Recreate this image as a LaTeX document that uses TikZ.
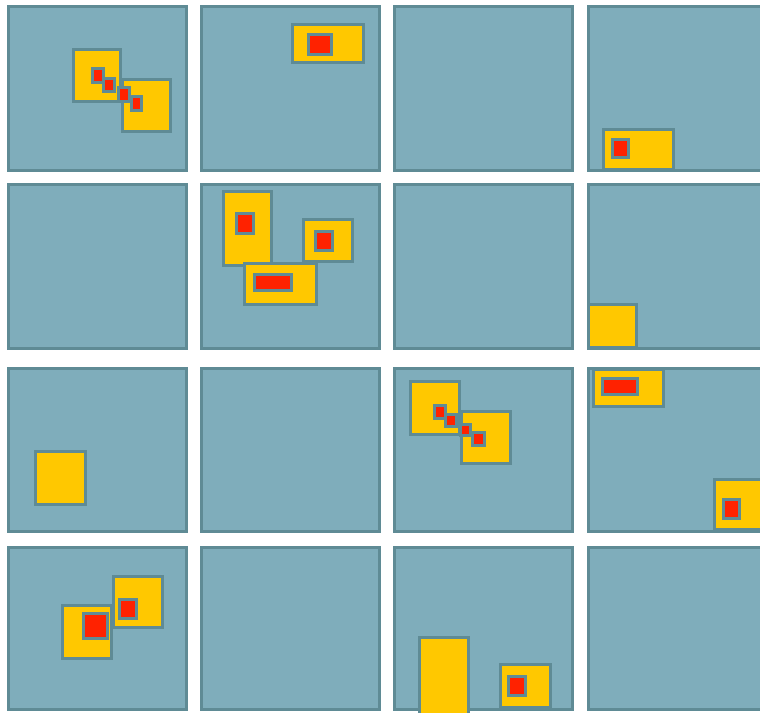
\documentclass[tikz,border=0pt]{standalone}
\definecolor{cellfill}{RGB}{127,173,187}
\definecolor{cellline}{RGB}{95,139,149}
\definecolor{gold}{RGB}{255,200,0}
\definecolor{redbox}{RGB}{255,34,0}
\tikzset{
  cellbox/.style={fill=cellfill,draw=cellline,line width=3pt},
  goldbox/.style={fill=gold,draw=cellline,line width=3pt},
  redsq/.style={fill=redbox,draw=cellline,line width=3pt},
}
% outer extents -> inset by half the line width
\newcommand{\bx}[5]{\draw[#1] ({#2+1.5},{#3+1.5}) rectangle ({#4-1.5},{#5-1.5});}
\begin{document}
\begin{tikzpicture}[x=1pt,y=-1pt]
\useasboundingbox (0,0) rectangle (760,712);
\clip (0,0) rectangle (760,712);
\fill[white] (0,0) rectangle (760,712);
% grid of cells
\foreach \cx in {7,200,393,587}{
  \foreach \cy/\ch in {5/167,183/167,367/166,546/165}{
    \bx{cellbox}{\cx}{\cy}{\cx+181}{\cy+\ch}
  }
}
% cell (1,1)
\bx{goldbox}{72}{48}{122}{103}
\bx{goldbox}{121}{78}{172}{133}
\bx{redsq}{91}{67}{105}{84}
\bx{redsq}{102}{77}{116}{93}
\bx{redsq}{117}{86}{131}{103}
\bx{redsq}{130}{95}{143}{112}
% cell (1,2)
\bx{goldbox}{291}{23}{365}{64}
\bx{redsq}{307}{33}{333}{56}
% cell (1,4)
\bx{goldbox}{602}{128}{675}{171}
\bx{redsq}{611}{138}{630}{159}
% cell (2,2)
\bx{goldbox}{222}{190}{273}{267}
\bx{redsq}{235}{212}{255}{235}
\bx{goldbox}{243}{262}{318}{306}
\bx{redsq}{253}{273}{293}{292}
\bx{goldbox}{302}{218}{354}{263}
\bx{redsq}{314}{230}{334}{252}
% cell (2,4)
\bx{goldbox}{587}{303}{638}{349}
% cell (3,1)
\bx{goldbox}{34}{450}{87}{506}
% cell (3,3)
\bx{goldbox}{409}{380}{461}{436}
\bx{goldbox}{460}{410}{512}{465}
\bx{redsq}{433}{404}{447}{420}
\bx{redsq}{444}{413}{458}{428}
\bx{redsq}{459}{423}{472}{437}
\bx{redsq}{471}{431}{486}{447}
% cell (3,4)
\bx{goldbox}{592}{368}{665}{408}
\bx{redsq}{601}{377}{639}{396}
\bx{goldbox}{713}{478}{780}{531}
\bx{redsq}{722}{498}{741}{520}
% cell (4,1)
\bx{goldbox}{61}{604}{113}{660}
\bx{redsq}{82}{612}{109}{640}
\bx{goldbox}{112}{575}{164}{629}
\bx{redsq}{118}{598}{138}{620}
% cell (4,3)
\bx{goldbox}{418}{636}{470}{716}
\bx{goldbox}{499}{663}{552}{709}
\bx{redsq}{507}{675}{527}{697}
\end{tikzpicture}
\end{document}
